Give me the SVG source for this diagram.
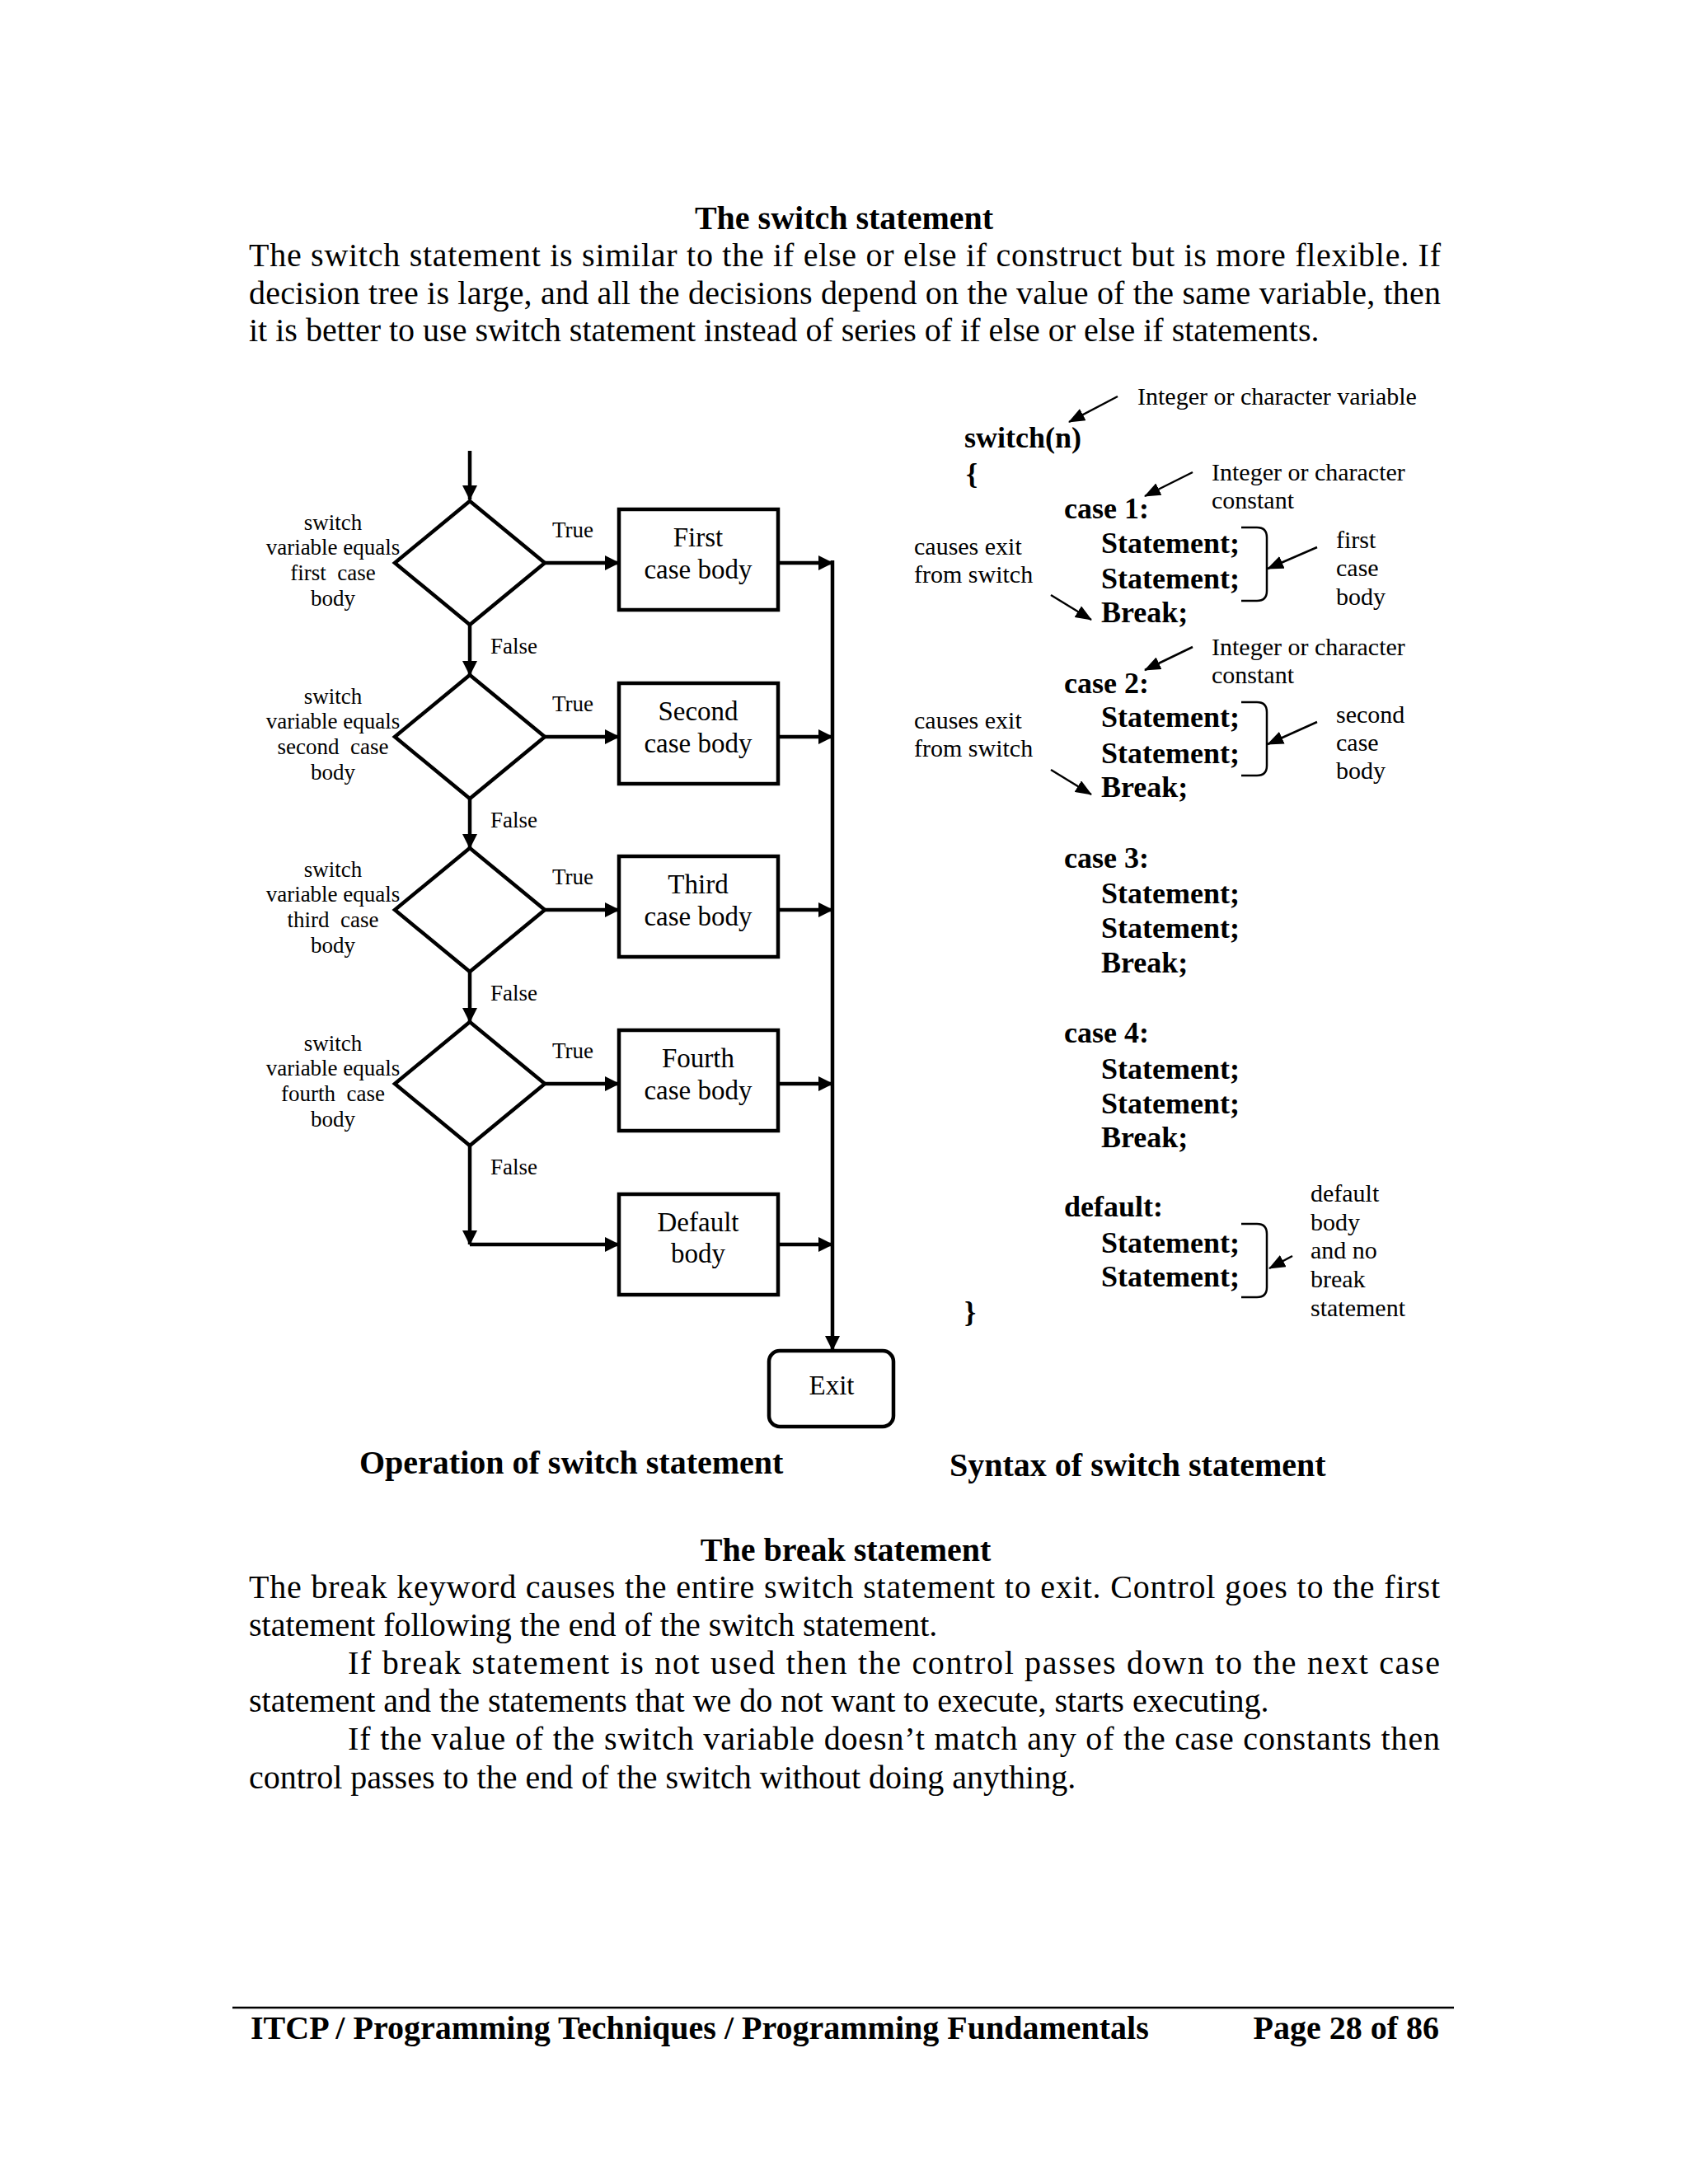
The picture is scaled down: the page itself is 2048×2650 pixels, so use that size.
<svg xmlns="http://www.w3.org/2000/svg" width="2048" height="2650" viewBox="0 0 2048 2650">
<defs>
<style>
text{font-family:"Liberation Serif","Times New Roman",serif;fill:#000}
.body{font-size:40px}
.hd{font-size:40px;font-weight:bold}
.lbl{font-size:27px}
.lblc{font-size:27px;text-anchor:middle}
.box{font-size:33px;text-anchor:middle}
.code{font-size:36px;font-weight:bold}
.ann{font-size:30px}
.shape{fill:#fff;stroke:#000;stroke-width:4.5}
.conn{fill:none;stroke:#000;stroke-width:4.5}
.sconn{fill:none;stroke:#000;stroke-width:2.5}
.brk{fill:none;stroke:#000;stroke-width:2.5}
</style>
<marker id="ah" viewBox="0 0 18 18" refX="17" refY="9" markerWidth="18" markerHeight="18" markerUnits="userSpaceOnUse" orient="auto">
<path d="M0,0 L18,9 L0,18 z" fill="#000"/>
</marker>
<marker id="sah" viewBox="0 0 20 16" refX="19" refY="8" markerWidth="20" markerHeight="16" markerUnits="userSpaceOnUse" orient="auto">
<path d="M0,0 L20,8 L0,16 z" fill="#000"/>
</marker>
</defs>
<rect width="2048" height="2650" fill="#fff"/>

<!-- Page text -->
<g id="page-text">
<text class="hd" x="1024" y="278" text-anchor="middle">The switch statement</text>
<text class="body" x="302" y="323" textLength="1446" lengthAdjust="spacing">The switch statement is similar to the if else or else if construct but is more flexible. If</text>
<text class="body" x="302" y="369" textLength="1446" lengthAdjust="spacing">decision tree is large, and all the decisions depend on the value of the same variable, then</text>
<text class="body" x="302" y="414">it is better to use switch statement instead of series of if else or else if statements.</text>

<text class="hd" x="436" y="1788">Operation of switch statement</text>
<text class="hd" x="1152" y="1791">Syntax of switch statement</text>

<text class="hd" x="1026" y="1894" text-anchor="middle">The break statement</text>
<text class="body" x="302" y="1939" textLength="1445" lengthAdjust="spacing">The break keyword causes the entire switch statement to exit. Control goes to the first</text>
<text class="body" x="302" y="1985">statement following the end of the switch statement.</text>
<text class="body" x="422" y="2031" textLength="1325" lengthAdjust="spacing">If break statement is not used then the control passes down to the next case</text>
<text class="body" x="302" y="2077">statement and the statements that we do not want to execute, starts executing.</text>
<text class="body" x="422" y="2123" textLength="1325" lengthAdjust="spacing">If the value of the switch variable doesn’t match any of the case constants then</text>
<text class="body" x="302" y="2170">control passes to the end of the switch without doing anything.</text>

<line x1="282" y1="2436" x2="1764" y2="2436" stroke="#000" stroke-width="2.5"/>
<text class="hd" x="304" y="2474">ITCP / Programming Techniques / Programming Fundamentals</text>
<text class="hd" x="1746" y="2474" text-anchor="end">Page 28 of 86</text>
</g>

<!-- Flowchart connectors -->
<g id="connectors">
<path class="conn" d="M570,547 V606" marker-end="url(#ah)"/>
<path class="conn" d="M570,758 V819" marker-end="url(#ah)"/>
<path class="conn" d="M570,969 V1029" marker-end="url(#ah)"/>
<path class="conn" d="M570,1179 V1240" marker-end="url(#ah)"/>
<path class="conn" d="M570,1390 V1510" marker-end="url(#ah)"/>
<path class="conn" d="M570,1510 H751" marker-end="url(#ah)"/>
<path class="conn" d="M661,683 H751" marker-end="url(#ah)"/>
<path class="conn" d="M661,894 H751" marker-end="url(#ah)"/>
<path class="conn" d="M661,1104 H751" marker-end="url(#ah)"/>
<path class="conn" d="M661,1315 H751" marker-end="url(#ah)"/>
<path class="conn" d="M944,683 H1010" marker-end="url(#ah)"/>
<path class="conn" d="M944,894 H1010" marker-end="url(#ah)"/>
<path class="conn" d="M944,1104 H1010" marker-end="url(#ah)"/>
<path class="conn" d="M944,1315 H1010" marker-end="url(#ah)"/>
<path class="conn" d="M944,1510 H1010" marker-end="url(#ah)"/>
<path class="conn" d="M1010,680 V1638" marker-end="url(#ah)"/>
<text class="lbl" x="670" y="652">True</text>
<text class="lbl" x="670" y="863">True</text>
<text class="lbl" x="670" y="1073">True</text>
<text class="lbl" x="670" y="1284">True</text>
<text class="lbl" x="595" y="793">False</text>
<text class="lbl" x="595" y="1004">False</text>
<text class="lbl" x="595" y="1214">False</text>
<text class="lbl" x="595" y="1425">False</text>
</g>

<!-- Decisions -->
<g id="decision1">
<polygon class="shape" points="570,608 661,683 570,758 479,683"/>
<text class="lblc" x="404" y="643">switch</text>
<text class="lblc" x="404" y="673">variable equals</text>
<text class="lblc" x="404" y="704" xml:space="preserve">first  case</text>
<text class="lblc" x="404" y="735">body</text>
</g>
<g id="decision2">
<polygon class="shape" points="570,819 661,894 570,969 479,894"/>
<text class="lblc" x="404" y="854">switch</text>
<text class="lblc" x="404" y="884">variable equals</text>
<text class="lblc" x="404" y="915" xml:space="preserve">second  case</text>
<text class="lblc" x="404" y="946">body</text>
</g>
<g id="decision3">
<polygon class="shape" points="570,1029 661,1104 570,1179 479,1104"/>
<text class="lblc" x="404" y="1064">switch</text>
<text class="lblc" x="404" y="1094">variable equals</text>
<text class="lblc" x="404" y="1125" xml:space="preserve">third  case</text>
<text class="lblc" x="404" y="1156">body</text>
</g>
<g id="decision4">
<polygon class="shape" points="570,1240 661,1315 570,1390 479,1315"/>
<text class="lblc" x="404" y="1275">switch</text>
<text class="lblc" x="404" y="1305">variable equals</text>
<text class="lblc" x="404" y="1336" xml:space="preserve">fourth  case</text>
<text class="lblc" x="404" y="1367">body</text>
</g>

<!-- Case bodies -->
<g id="box1">
<rect class="shape" x="751" y="618" width="193" height="122"/>
<text class="box" x="847" y="663">First</text>
<text class="box" x="847" y="702">case body</text>
</g>
<g id="box2">
<rect class="shape" x="751" y="829" width="193" height="122"/>
<text class="box" x="847" y="874">Second</text>
<text class="box" x="847" y="913">case body</text>
</g>
<g id="box3">
<rect class="shape" x="751" y="1039" width="193" height="122"/>
<text class="box" x="847" y="1084">Third</text>
<text class="box" x="847" y="1123">case body</text>
</g>
<g id="box4">
<rect class="shape" x="751" y="1250" width="193" height="122"/>
<text class="box" x="847" y="1295">Fourth</text>
<text class="box" x="847" y="1334">case body</text>
</g>
<g id="box-default">
<rect class="shape" x="751" y="1449" width="193" height="122"/>
<text class="box" x="847" y="1494">Default</text>
<text class="box" x="847" y="1532">body</text>
</g>
<g id="exit">
<rect class="shape" x="933" y="1639" width="151" height="92" rx="13"/>
<text class="box" x="1009" y="1692">Exit</text>
</g>

<!-- Syntax -->
<g id="syntax">
<text class="code" x="1170" y="543">switch(n)</text>
<text class="code" x="1172" y="587">{</text>
<text class="code" x="1291" y="629">case 1:</text>
<text class="code" x="1336" y="671">Statement;</text>
<text class="code" x="1336" y="714">Statement;</text>
<text class="code" x="1336" y="755">Break;</text>
<text class="code" x="1291" y="841">case 2:</text>
<text class="code" x="1336" y="882">Statement;</text>
<text class="code" x="1336" y="926">Statement;</text>
<text class="code" x="1336" y="967">Break;</text>
<text class="code" x="1291" y="1053">case 3:</text>
<text class="code" x="1336" y="1096">Statement;</text>
<text class="code" x="1336" y="1138">Statement;</text>
<text class="code" x="1336" y="1180">Break;</text>
<text class="code" x="1291" y="1265">case 4:</text>
<text class="code" x="1336" y="1309">Statement;</text>
<text class="code" x="1336" y="1351">Statement;</text>
<text class="code" x="1336" y="1392">Break;</text>
<text class="code" x="1291" y="1476">default:</text>
<text class="code" x="1336" y="1520">Statement;</text>
<text class="code" x="1336" y="1561">Statement;</text>
<text class="code" x="1170" y="1604">}</text>
</g>

<g id="syntax-annotations">
<text class="ann" x="1380" y="491">Integer or character variable</text>
<text class="ann" x="1470" y="583">Integer or character</text>
<text class="ann" x="1470" y="617">constant</text>
<text class="ann" x="1470" y="795">Integer or character</text>
<text class="ann" x="1470" y="829">constant</text>
<text class="ann" x="1109" y="673">causes exit</text>
<text class="ann" x="1109" y="707">from switch</text>
<text class="ann" x="1109" y="884">causes exit</text>
<text class="ann" x="1109" y="918">from switch</text>
<text class="ann" x="1621" y="665">first</text>
<text class="ann" x="1621" y="699">case</text>
<text class="ann" x="1621" y="734">body</text>
<text class="ann" x="1621" y="877">second</text>
<text class="ann" x="1621" y="911">case</text>
<text class="ann" x="1621" y="945">body</text>
<text class="ann" x="1590" y="1458">default</text>
<text class="ann" x="1590" y="1493">body</text>
<text class="ann" x="1590" y="1527">and no</text>
<text class="ann" x="1590" y="1562">break</text>
<text class="ann" x="1590" y="1597">statement</text>
</g>

<g id="syntax-connectors">
<path class="sconn" d="M1356,481 L1297,512" marker-end="url(#sah)"/>
<path class="sconn" d="M1447,573 L1389,602" marker-end="url(#sah)"/>
<path class="sconn" d="M1447,785 L1389,813" marker-end="url(#sah)"/>
<path class="sconn" d="M1275,722 L1324,752" marker-end="url(#sah)"/>
<path class="sconn" d="M1275,934 L1324,964" marker-end="url(#sah)"/>
<path class="sconn" d="M1598,664 L1538,690" marker-end="url(#sah)"/>
<path class="sconn" d="M1598,876 L1538,903" marker-end="url(#sah)"/>
<path class="sconn" d="M1568,1524 L1540,1539" marker-end="url(#sah)"/>
<path class="brk" d="M1506,640 H1525 Q1537,640 1537,652 V717 Q1537,729 1525,729 H1506"/>
<path class="brk" d="M1506,852 H1525 Q1537,852 1537,864 V929 Q1537,941 1525,941 H1506"/>
<path class="brk" d="M1506,1485 H1525 Q1537,1485 1537,1497 V1562 Q1537,1574 1525,1574 H1506"/>
</g>
</svg>
